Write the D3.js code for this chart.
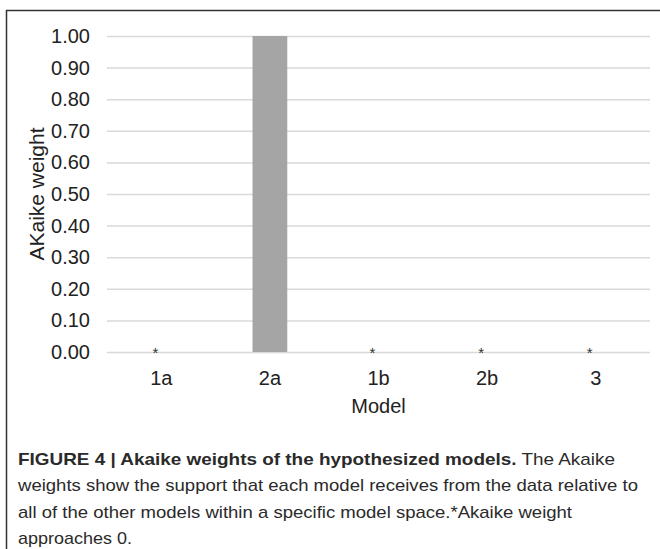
<!DOCTYPE html>
<html>
<head>
<meta charset="utf-8">
<script src="https://cdn.jsdelivr.net/npm/d3@7"></script>
<style>
	body { margin: 0; background: #fff; }
	svg { display: block; font-family: "Liberation Sans", Arial, sans-serif; }
</style>
</head>
<body>
<div id="chart"></div>
<script>
// data
const models = ["1a", "2a", "1b", "2b", "3"];
const weights = [0, 1, 0, 0, 0];
const nearZero = [true, false, true, true, true];   // marked with * in the figure
const yTicks = [0, 0.1, 0.2, 0.3, 0.4, 0.5, 0.6, 0.7, 0.8, 0.9, 1.0];
const captionBold = "FIGURE 4 | Akaike weights of the hypothesized models.";
const captionLines = [
	" The Akaike",
	"weights show the support that each model receives from the data relative to",
	"all of the other models within a specific model space.*Akaike weight",
	"approaches 0."
];

const width = 660, height = 549;
const plot = { left: 107, right: 650, top: 36, bottom: 352 };

const svg = d3.select("#chart").append("svg")
	.attr("width", width)
	.attr("height", height);

// frame (open on right and bottom)
svg.append("path")
	.attr("d", `M${width},10.5 H6.5 V${height}`)
	.attr("fill", "none")
	.attr("stroke", "#333")
	.attr("stroke-width", 1.5);

const x = d3.scaleBand()
	.domain(models)
	.range([plot.left, plot.right])
	.paddingInner(0.68)
	.paddingOuter(0.34);

const y = d3.scaleLinear()
	.domain([0, 1])
	.range([plot.bottom, plot.top]);

// gridlines + y labels
const yAxis = svg.append("g")
	.attr("transform", `translate(${plot.left},0)`)
	.call(d3.axisLeft(y).tickValues(yTicks).tickFormat(d3.format(".2f"))
		.tickSize(-(plot.right - plot.left)).tickPadding(17));
yAxis.select(".domain").remove();
yAxis.selectAll(".tick line").attr("stroke", "#d9d9d9").attr("stroke-width", 1.5);
yAxis.selectAll(".tick text")
	.attr("fill", "#222")
	.style("font-size", "20px")
	.style("font-family", "Liberation Sans, Arial, sans-serif");

// bars
svg.append("g").selectAll("rect")
	.data(models.map((m, i) => ({ m, v: weights[i] })))
	.enter()
	.append("rect")
	.attr("x", d => x(d.m))
	.attr("width", x.bandwidth())
	.attr("y", d => y(d.v))
	.attr("height", d => y(0) - y(d.v))
	.attr("fill", "#a5a5a5");

// asterisks for near-zero weights
svg.append("g").selectAll("text")
	.data(models.filter((m, i) => nearZero[i]))
	.enter()
	.append("text")
	.attr("x", d => x(d) + x.bandwidth() / 2 - 6)
	.attr("y", y(0) + 6)
	.attr("text-anchor", "middle")
	.attr("fill", "#333")
	.style("font-size", "15px")
	.text("*");

// x labels
const xAxis = svg.append("g")
	.attr("transform", `translate(0,${plot.bottom})`)
	.call(d3.axisBottom(x).tickSize(0).tickPadding(19));
xAxis.select(".domain").remove();
xAxis.selectAll(".tick text")
	.attr("fill", "#222")
	.style("font-size", "20px")
	.style("font-family", "Liberation Sans, Arial, sans-serif");

svg.append("text")
	.attr("x", (plot.left + plot.right) / 2)
	.attr("y", 413)
	.attr("text-anchor", "middle")
	.attr("fill", "#222")
	.style("font-size", "20px")
	.text("Model");

svg.append("text")
	.attr("transform", `translate(44,${(plot.top + plot.bottom) / 2}) rotate(-90)`)
	.attr("text-anchor", "middle")
	.attr("fill", "#222")
	.style("font-size", "21px")
	.text("AKaike weight");

// caption
const cap = svg.append("g")
	.attr("fill", "#2a2a2a")
	.style("font-family", "Liberation Sans, Arial, sans-serif")
	.style("font-size", "17px");
const lineWidths = [597, 620, 554, 114];
captionLines.forEach((t, i) => {
	const tx = cap.append("text")
		.attr("x", 18)
		.attr("y", 465 + i * 26.3)
		.attr("textLength", lineWidths[i])
		.attr("lengthAdjust", "spacingAndGlyphs");
	if (i === 0) {
		tx.append("tspan").attr("font-weight", "bold").text(captionBold);
	}
	tx.append("tspan").text(t);
});
</script>
</body>
</html>
